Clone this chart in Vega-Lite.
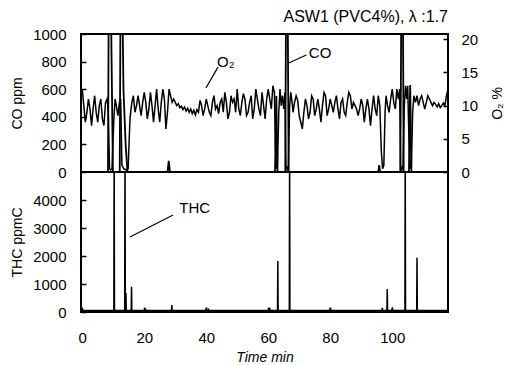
{
  "$schema": "https://vega.github.io/schema/vega-lite/v6.json",
  "background": "white",
  "padding": {"left": 9, "top": 8, "right": 0, "bottom": 0},
  "spacing": 0,
  "bounds": "flush",
  "config": {
    "view": {"stroke": "black", "strokeWidth": 2},
    "font": "Liberation Sans",
    "axis": {"domain": false, "grid": false, "tickSize": -5, "tickColor": "black", "tickWidth": 1.5, "labelFont": "Liberation Sans", "labelFontSize": 15, "labelColor": "black", "labelOverlap": false, "format": "d", "titleFont": "Liberation Sans", "titleFontSize": 14, "titleFontWeight": "normal", "titleColor": "black"},
    "concat": {"spacing": 0}
  },
  "datasets": {
    "o2": [
      {"t":0,"o2":12.5},{"t":0.5,"o2":10},{"t":1,"o2":7.5},{"t":1.5,"o2":9},{"t":2,"o2":11},{"t":2.5,"o2":9.5},{"t":3,"o2":7},{"t":3.5,"o2":9.5},{"t":4,"o2":11.5},{"t":4.5,"o2":9},{"t":5,"o2":7.5},{"t":5.5,"o2":10},{"t":6,"o2":11},{"t":6.5,"o2":8},{"t":7,"o2":7},{"t":7.5,"o2":10.5},{"t":8,"o2":11},{"t":8.4,"o2":9},{"t":8.8,"o2":0.5},{"t":9.2,"o2":0.3},{"t":9.6,"o2":0.5},{"t":10.2,"o2":8},{"t":10.6,"o2":11},{"t":11,"o2":10},{"t":11.5,"o2":8.5},{"t":12,"o2":10.5},{"t":12.4,"o2":11},{"t":12.8,"o2":1},{"t":13.4,"o2":0.5},{"t":14.2,"o2":0.3},{"t":14.8,"o2":0.5},{"t":15.4,"o2":8},{"t":16,"o2":10.5},{"t":16.5,"o2":11.5},{"t":17,"o2":9},{"t":17.5,"o2":10},{"t":18,"o2":11.5},{"t":18.5,"o2":10},{"t":19,"o2":8.5},{"t":19.5,"o2":10.5},{"t":20,"o2":12},{"t":20.5,"o2":10.5},{"t":21,"o2":8},{"t":21.5,"o2":9.5},{"t":22,"o2":12},{"t":22.5,"o2":10},{"t":23,"o2":7.5},{"t":23.5,"o2":10},{"t":24,"o2":12.5},{"t":24.5,"o2":9.5},{"t":25,"o2":7.5},{"t":25.5,"o2":10.5},{"t":26,"o2":12.5},{"t":26.5,"o2":11},{"t":27,"o2":6.5},{"t":27.5,"o2":9},{"t":28,"o2":12.5},{"t":28.5,"o2":11.5},{"t":29,"o2":10.5},{"t":29.5,"o2":11},{"t":30,"o2":10.5},{"t":30.5,"o2":10},{"t":31,"o2":10.3},{"t":31.5,"o2":9.7},{"t":32,"o2":9.9},{"t":32.5,"o2":9.4},{"t":33,"o2":9.8},{"t":33.5,"o2":9.2},{"t":34,"o2":9.6},{"t":34.5,"o2":9},{"t":35,"o2":9.5},{"t":35.5,"o2":8.8},{"t":36,"o2":9.3},{"t":36.5,"o2":8.6},{"t":37,"o2":9.4},{"t":37.5,"o2":9},{"t":38,"o2":10.8},{"t":38.5,"o2":10},{"t":39,"o2":8.5},{"t":39.5,"o2":9.5},{"t":40,"o2":11},{"t":40.5,"o2":10},{"t":41,"o2":9},{"t":41.5,"o2":8.5},{"t":42,"o2":10.5},{"t":42.5,"o2":11.5},{"t":43,"o2":9.5},{"t":43.5,"o2":10},{"t":44,"o2":8.8},{"t":44.5,"o2":10.5},{"t":45,"o2":11},{"t":45.5,"o2":9},{"t":46,"o2":12},{"t":46.5,"o2":10.5},{"t":47,"o2":8},{"t":47.5,"o2":9},{"t":48,"o2":11.5},{"t":48.5,"o2":10.5},{"t":49,"o2":11},{"t":49.5,"o2":9},{"t":50,"o2":12.5},{"t":50.5,"o2":9.5},{"t":51,"o2":8.5},{"t":51.5,"o2":10.5},{"t":52,"o2":11.8},{"t":52.5,"o2":11},{"t":53,"o2":8.5},{"t":53.5,"o2":9},{"t":54,"o2":10.5},{"t":54.5,"o2":11.5},{"t":55,"o2":8},{"t":55.5,"o2":9.5},{"t":56,"o2":12.5},{"t":56.5,"o2":11},{"t":57,"o2":9.5},{"t":57.5,"o2":8.5},{"t":58,"o2":12},{"t":58.5,"o2":10},{"t":59,"o2":8},{"t":59.5,"o2":11},{"t":60,"o2":12.5},{"t":60.5,"o2":11},{"t":61,"o2":9.5},{"t":61.5,"o2":13},{"t":62,"o2":12},{"t":62.3,"o2":4},{"t":62.6,"o2":0.5},{"t":63,"o2":1},{"t":63.4,"o2":9},{"t":63.8,"o2":12.5},{"t":64.2,"o2":10},{"t":64.6,"o2":11.5},{"t":65,"o2":9.5},{"t":65.4,"o2":12},{"t":65.7,"o2":1},{"t":66.1,"o2":0.3},{"t":66.5,"o2":1},{"t":66.9,"o2":10},{"t":67.3,"o2":12},{"t":67.7,"o2":10.5},{"t":68,"o2":9},{"t":68.5,"o2":10.5},{"t":69,"o2":11.5},{"t":69.5,"o2":10.8},{"t":70,"o2":8.5},{"t":70.5,"o2":7.5},{"t":71,"o2":6.5},{"t":71.5,"o2":9},{"t":72,"o2":11},{"t":72.5,"o2":10},{"t":73,"o2":8},{"t":73.5,"o2":9},{"t":74,"o2":11.5},{"t":74.5,"o2":11},{"t":75,"o2":8.5},{"t":75.5,"o2":9.5},{"t":76,"o2":11},{"t":76.5,"o2":9.5},{"t":77,"o2":7.5},{"t":77.5,"o2":10},{"t":78,"o2":12},{"t":78.5,"o2":11.5},{"t":79,"o2":8.5},{"t":79.5,"o2":9.5},{"t":80,"o2":11},{"t":80.5,"o2":10},{"t":81,"o2":9},{"t":81.5,"o2":10.5},{"t":82,"o2":11.5},{"t":82.5,"o2":9.5},{"t":83,"o2":8},{"t":83.5,"o2":10.5},{"t":84,"o2":11},{"t":84.5,"o2":9},{"t":85,"o2":8.5},{"t":85.5,"o2":10.5},{"t":86,"o2":12},{"t":86.5,"o2":11.5},{"t":87,"o2":9.5},{"t":87.5,"o2":10.5},{"t":88,"o2":10},{"t":88.5,"o2":9.5},{"t":89,"o2":8.5},{"t":89.5,"o2":9.5},{"t":90,"o2":11},{"t":90.5,"o2":10},{"t":91,"o2":7.5},{"t":91.5,"o2":9.5},{"t":92,"o2":11},{"t":92.5,"o2":9.5},{"t":93,"o2":7},{"t":93.5,"o2":9.5},{"t":94,"o2":11.5},{"t":94.5,"o2":9.5},{"t":95,"o2":8.5},{"t":95.5,"o2":11.5},{"t":96,"o2":10},{"t":96.5,"o2":3},{"t":96.9,"o2":0.5},{"t":97.3,"o2":1},{"t":97.7,"o2":9},{"t":98,"o2":11.5},{"t":98.5,"o2":10},{"t":99,"o2":9},{"t":99.5,"o2":11},{"t":100,"o2":12.5},{"t":100.5,"o2":10.5},{"t":101,"o2":9.5},{"t":101.5,"o2":12.5},{"t":102,"o2":11},{"t":102.4,"o2":12.5},{"t":102.7,"o2":1},{"t":103.1,"o2":0.3},{"t":103.5,"o2":1},{"t":103.9,"o2":10},{"t":104.3,"o2":13},{"t":104.7,"o2":11},{"t":105,"o2":13},{"t":105.4,"o2":5},{"t":105.8,"o2":0.5},{"t":106.2,"o2":1},{"t":106.6,"o2":9},{"t":107,"o2":11.5},{"t":107.5,"o2":10.5},{"t":108,"o2":11.5},{"t":108.5,"o2":10},{"t":109,"o2":11},{"t":109.5,"o2":11.5},{"t":110,"o2":10.5},{"t":110.5,"o2":9.5},{"t":111,"o2":10.5},{"t":111.5,"o2":11.5},{"t":112,"o2":11},{"t":112.5,"o2":10.5},{"t":113,"o2":10},{"t":113.5,"o2":10.5},{"t":114,"o2":10.2},{"t":114.5,"o2":9.8},{"t":115,"o2":10.3},{"t":115.5,"o2":9.7},{"t":116,"o2":10},{"t":116.5,"o2":10.4},{"t":117,"o2":10},{"t":117.5,"o2":11.5},{"t":118,"o2":12.5}
    ],
    "co": [
      {"t":0,"co":0},{"t":8.3,"co":0},{"t":8.6,"co":1500},{"t":9.1,"co":1500},{"t":9.5,"co":750},{"t":9.9,"co":0},
      {"t":12.1,"co":0},{"t":12.4,"co":1500},{"t":12.8,"co":1500},{"t":13.3,"co":600},{"t":14,"co":200},{"t":14.6,"co":0},
      {"t":27.5,"co":0},{"t":27.9,"co":80},{"t":28.3,"co":0},
      {"t":62.2,"co":0},{"t":62.6,"co":550},{"t":63,"co":0},
      {"t":65.5,"co":0},{"t":65.8,"co":1500},{"t":66.2,"co":1500},{"t":66.6,"co":0},
      {"t":95.5,"co":0},{"t":95.8,"co":50},{"t":96.1,"co":0},
      {"t":102.6,"co":0},{"t":102.8,"co":650},{"t":103,"co":1500},{"t":103.4,"co":1500},{"t":103.7,"co":0},
      {"t":105.4,"co":0},{"t":105.8,"co":630},{"t":106.2,"co":0},
      {"t":118,"co":0}
    ],
    "thc": [
      {"t":0,"thc":50},{"t":10.2,"thc":50},{"t":10.3,"thc":6000},{"t":10.4,"thc":50},{"t":13.7,"thc":50},{"t":13.8,"thc":6000},{"t":13.9,"thc":50},{"t":14.0,"thc":50},{"t":14.1,"thc":680},{"t":14.2,"thc":50},{"t":15.8,"thc":50},{"t":15.9,"thc":900},{"t":16.0,"thc":50},{"t":20.3,"thc":50},{"t":20.4,"thc":120},{"t":20.5,"thc":50},{"t":28.8,"thc":50},{"t":28.9,"thc":250},{"t":29.0,"thc":50},{"t":39.9,"thc":50},{"t":40.0,"thc":150},{"t":40.1,"thc":50},{"t":40.6,"thc":50},{"t":40.7,"thc":120},{"t":40.8,"thc":50},{"t":60.4,"thc":50},{"t":60.5,"thc":150},{"t":60.6,"thc":50},{"t":63.0,"thc":50},{"t":63.1,"thc":1820},{"t":63.2,"thc":50},{"t":66.8,"thc":50},{"t":66.9,"thc":6000},{"t":67.0,"thc":50},{"t":79.9,"thc":50},{"t":80.0,"thc":150},{"t":80.1,"thc":50},{"t":96.7,"thc":50},{"t":96.8,"thc":150},{"t":96.9,"thc":50},{"t":98.3,"thc":50},{"t":98.4,"thc":820},{"t":98.5,"thc":50},{"t":99.9,"thc":50},{"t":100.0,"thc":150},{"t":100.1,"thc":50},{"t":104.1,"thc":50},{"t":104.2,"thc":6000},{"t":104.3,"thc":50},{"t":107.9,"thc":50},{"t":108.0,"thc":1940},{"t":108.1,"thc":50},{"t":118,"thc":50}
    ],
    "annTopText": [{"t":43.5,"v":797,"label":"O₂"},{"t":73.1,"v":862,"label":"CO"}],
    "annTopRule": [{"t1":39.9,"v1":609,"t2":43.8,"v2":760},{"t1":66.6,"v1":790,"t2":72.3,"v2":848}],
    "annBotText": [{"t":31.3,"v":3714,"label":"THC"}],
    "annBotRule": [{"t1":15.4,"v1":2679,"t2":29.3,"v2":3464}]
  },
  "vconcat": [
    {
      "width": 367,
      "height": 138,
      "title": {"text": "ASW1 (PVC4%), λ :1.7", "anchor": "end", "frame": "group", "fontSize": 16, "fontWeight": "normal", "font": "Liberation Sans", "color": "black", "offset": 2},
      "layer": [
        {
          "data": {"name": "co"},
          "mark": {"type": "line", "color": "black", "strokeWidth": 1.8, "clip": true},
          "encoding": {
            "x": {"field": "t", "type": "quantitative", "scale": {"domain": [-0.4, 118]}, "axis": null},
            "y": {"field": "co", "type": "quantitative", "scale": {"domain": [0, 1000]}, "axis": {"title": "CO  ppm", "values": [0, 200, 400, 600, 800, 1000], "labelOverlap": false, "labelPadding": 20, "titlePadding": 8}}
          }
        },
        {
          "data": {"name": "o2"},
          "mark": {"type": "line", "color": "black", "strokeWidth": 1.5, "clip": true},
          "encoding": {
            "x": {"field": "t", "type": "quantitative", "scale": {"domain": [-0.4, 118]}, "axis": null},
            "y": {"field": "o2", "type": "quantitative", "scale": {"domain": [0, 20.8]}, "axis": {"orient": "right", "title": "O₂  %", "titleAngle": -90, "values": [0, 5, 10, 15, 20], "labelOverlap": false, "labelPadding": 18, "titlePadding": 27}}
          }
        },
        {
          "data": {"name": "annTopRule"},
          "mark": {"type": "rule", "color": "black", "strokeWidth": 1.2},
          "encoding": {
            "x": {"field": "t1", "type": "quantitative", "scale": {"domain": [-0.4, 118]}, "axis": null},
            "x2": {"field": "t2"},
            "y": {"field": "v1", "type": "quantitative", "scale": {"domain": [0, 1000]}, "axis": null},
            "y2": {"field": "v2"}
          }
        },
        {
          "data": {"name": "annTopText"},
          "mark": {"type": "text", "align": "left", "baseline": "middle", "fontSize": 15, "color": "black", "font": "Liberation Sans"},
          "encoding": {
            "x": {"field": "t", "type": "quantitative", "scale": {"domain": [-0.4, 118]}, "axis": null},
            "y": {"field": "v", "type": "quantitative", "scale": {"domain": [0, 1000]}, "axis": null},
            "text": {"field": "label"}
          }
        }
      ],
      "resolve": {"scale": {"y": "independent"}}
    },
    {
      "width": 367,
      "height": 140,
      "layer": [
        {
          "data": {"name": "thc"},
          "mark": {"type": "line", "color": "black", "strokeWidth": 1.5, "clip": true},
          "encoding": {
            "x": {"field": "t", "type": "quantitative", "scale": {"domain": [-0.4, 118]}, "axis": {"title": "Time  min", "titleFontStyle": "italic", "values": [0, 20, 40, 60, 80, 100], "labelOverlap": false, "labelPadding": 23, "titlePadding": 5}},
            "y": {"field": "thc", "type": "quantitative", "scale": {"domain": [0, 5000]}, "axis": {"title": "THC  ppmC", "values": [0, 1000, 2000, 3000, 4000], "labelOverlap": false, "labelPadding": 20, "titlePadding": 8}}
          }
        },
        {
          "data": {"name": "annBotRule"},
          "mark": {"type": "rule", "color": "black", "strokeWidth": 1.2},
          "encoding": {
            "x": {"field": "t1", "type": "quantitative", "scale": {"domain": [-0.4, 118]}, "axis": {"title": "Time  min", "titleFontStyle": "italic", "values": [0, 20, 40, 60, 80, 100], "labelOverlap": false, "labelPadding": 23, "titlePadding": 5}},
            "x2": {"field": "t2"},
            "y": {"field": "v1", "type": "quantitative", "scale": {"domain": [0, 5000]}, "axis": {"title": "THC  ppmC", "values": [0, 1000, 2000, 3000, 4000], "labelOverlap": false, "labelPadding": 20, "titlePadding": 8}},
            "y2": {"field": "v2"}
          }
        },
        {
          "data": {"name": "annBotText"},
          "mark": {"type": "text", "align": "left", "baseline": "middle", "fontSize": 15, "color": "black", "font": "Liberation Sans"},
          "encoding": {
            "x": {"field": "t", "type": "quantitative", "scale": {"domain": [-0.4, 118]}, "axis": {"title": "Time  min", "titleFontStyle": "italic", "values": [0, 20, 40, 60, 80, 100], "labelOverlap": false, "labelPadding": 23, "titlePadding": 5}},
            "y": {"field": "v", "type": "quantitative", "scale": {"domain": [0, 5000]}, "axis": {"title": "THC  ppmC", "values": [0, 1000, 2000, 3000, 4000], "labelOverlap": false, "labelPadding": 20, "titlePadding": 8}},
            "text": {"field": "label"}
          }
        }
      ]
    }
  ]
}
